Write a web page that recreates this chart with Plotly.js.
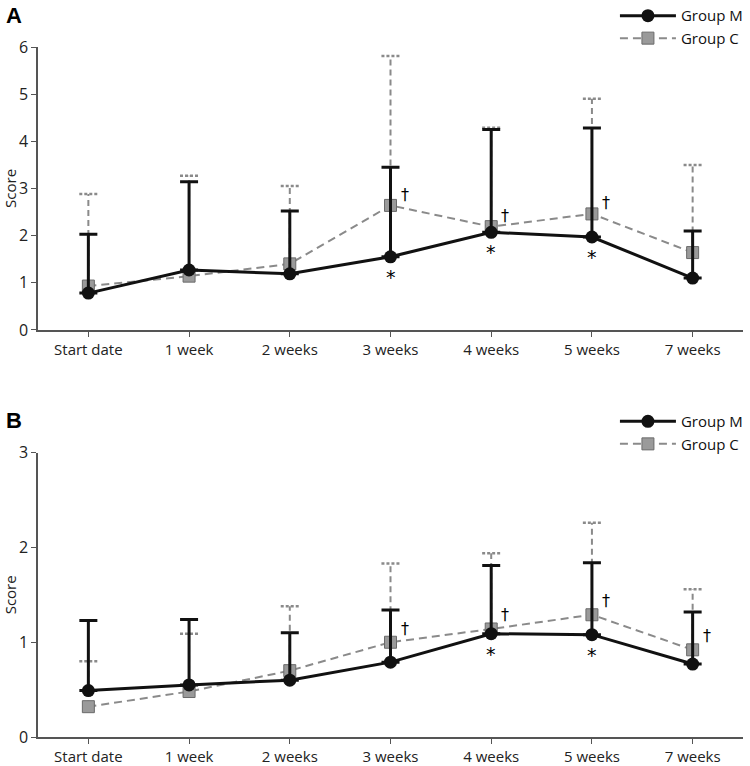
<!DOCTYPE html>
<html>
<head>
<meta charset="utf-8">
<script src="https://cdn.plot.ly/plotly-3.0.1.min.js"></script>
<style>
  body { margin: 0; background: #fff; }
  #chart { width: 750px; height: 766px; }
</style>
</head>
<body>
<div id="chart"></div>
<script>
var categories = ['Start date', '1 week', '2 weeks', '3 weeks', '4 weeks', '5 weeks', '7 weeks'];

// panel A : mean and mean+SD
var aGroupM = [0.78, 1.27, 1.19, 1.55, 2.07, 1.97, 1.10];
var aGroupMTop = [2.03, 3.14, 2.52, 3.45, 4.25, 4.28, 2.10];
var aGroupC = [0.93, 1.14, 1.40, 2.64, 2.19, 2.46, 1.64];
var aGroupCTop = [2.88, 3.27, 3.05, 5.81, 4.29, 4.90, 3.50];
var aStar = [3, 4, 5];
var aDagger = [3, 4, 5];

// panel B
var bGroupM = [0.49, 0.55, 0.60, 0.79, 1.09, 1.08, 0.77];
var bGroupMTop = [1.23, 1.24, 1.10, 1.34, 1.81, 1.84, 1.32];
var bGroupC = [0.32, 0.48, 0.70, 1.00, 1.14, 1.29, 0.92];
var bGroupCTop = [0.80, 1.09, 1.38, 1.83, 1.94, 2.26, 1.56];
var bStar = [4, 5];
var bDagger = [3, 4, 5, 6];

var xs = categories.map(function (c, i) { return i; });
var grey = '#8a8a8a';
var capHalf = 0.09;

function panel(m, mTop, c, cTop, xa, ya, leg) {
  var stemX = [], stemY = [], capX = [], capY = [];
  xs.forEach(function (x, i) {
    stemX.push(x, x, null); stemY.push(c[i], cTop[i], null);
    capX.push(x - capHalf, x + capHalf, null); capY.push(cTop[i], cTop[i], null);
  });
  return [
    {x: stemX, y: stemY, xaxis: xa, yaxis: ya, mode: 'lines', showlegend: false, hoverinfo: 'skip',
     line: {color: grey, width: 2, dash: '6px,4px'}},
    {x: capX, y: capY, xaxis: xa, yaxis: ya, mode: 'lines', showlegend: false, hoverinfo: 'skip',
     line: {color: grey, width: 2.5, dash: '3px,2px'}},
    {x: xs, y: c, xaxis: xa, yaxis: ya, name: 'Group C', legend: leg, legendrank: 2,
     mode: 'lines+markers',
     line: {color: grey, width: 2, dash: '8px,5px'},
     marker: {symbol: 'square', size: 12, color: '#9a9a9a', line: {color: '#6a6a6a', width: 1}}},
    {x: xs, y: m, xaxis: xa, yaxis: ya, name: 'Group M', legend: leg, legendrank: 1,
     mode: 'lines+markers',
     line: {color: '#111', width: 3},
     marker: {symbol: 'circle', size: 13, color: '#111'},
     error_y: {type: 'data', symmetric: false,
               array: mTop.map(function (t, i) { return t - m[i]; }),
               arrayminus: m.map(function () { return 0; }),
               color: '#111', thickness: 3, width: 9}}
  ];
}

var data = panel(aGroupM, aGroupMTop, aGroupC, aGroupCTop, 'x', 'y', 'legend')
  .concat(panel(bGroupM, bGroupMTop, bGroupC, bGroupCTop, 'x2', 'y2', 'legend2'));

function marks(list, vals, xa, ya, txt, dx, dy, size) {
  return list.map(function (i) {
    return {x: i, y: vals[i], xref: xa, yref: ya, text: txt, showarrow: false,
            xshift: dx, yshift: dy, font: {size: size, color: '#000', family: 'DejaVu Sans'}};
  });
}

var annotations = []
  .concat(marks(aStar, aGroupM, 'x', 'y', '*', 0, -20, 19))
  .concat(marks(aDagger, aGroupC, 'x', 'y', '†', 14, 11, 16))
  .concat(marks(bStar, bGroupM, 'x2', 'y2', '*', 0, -20, 19))
  .concat(marks(bDagger, bGroupC, 'x2', 'y2', '†', 14, 14, 16))
  .concat([
    {xref: 'paper', yref: 'paper', x: -0.048, y: 1.045, xanchor: 'left', yanchor: 'middle',
     text: '<b>A</b>', showarrow: false, font: {size: 22, color: '#000', family: 'Liberation Sans'}},
    {xref: 'paper', yref: 'paper', x: -0.048, y: 0.459, xanchor: 'left', yanchor: 'middle',
     text: '<b>B</b>', showarrow: false, font: {size: 22, color: '#000', family: 'Liberation Sans'}}
  ]);

var xaxisBase = {
  tickmode: 'array', tickvals: xs, ticktext: categories, range: [-0.5, 6.5],
  showline: true, linecolor: '#555', linewidth: 1.5, ticks: 'outside', ticklen: 5,
  tickcolor: '#555', showgrid: false, zeroline: false, automargin: false,
  tickfont: {size: 15, color: '#222'}
};
function yaxisBase(max, dom) {
  return {
    range: [0, max], dtick: 1, domain: dom,
    showline: true, linecolor: '#555', linewidth: 1.5, ticks: 'outside', ticklen: 5,
    tickcolor: '#555', showgrid: false, zeroline: false, automargin: false,
    tickfont: {size: 16, color: '#222'},
    title: {text: 'Score', standoff: 4, font: {size: 15, color: '#222'}}
  };
}

var layout = {
  width: 750, height: 766,
  margin: {l: 38, r: 7, t: 47, b: 29, autoexpand: false},
  paper_bgcolor: '#fff', plot_bgcolor: '#fff',
  font: {family: 'Open Sans, Noto Sans, sans-serif', color: '#222'},
  showlegend: true,
  xaxis: Object.assign({}, xaxisBase, {anchor: 'y'}),
  xaxis2: Object.assign({}, xaxisBase, {anchor: 'y2'}),
  yaxis: Object.assign(yaxisBase(6, [0.59, 1]), {anchor: 'x'}),
  yaxis2: Object.assign(yaxisBase(3, [0, 0.412]), {anchor: 'x2'}),
  legend: {x: 1.007, xanchor: 'right', y: 1.069, yanchor: 'top', bgcolor: 'rgba(0,0,0,0)',
           font: {size: 15, color: '#111'}, itemwidth: 56, tracegroupgap: 0},
  legend2: {x: 1.007, xanchor: 'right', y: 0.481, yanchor: 'top', bgcolor: 'rgba(0,0,0,0)',
            font: {size: 15, color: '#111'}, itemwidth: 56, tracegroupgap: 0},
  annotations: annotations
};

Plotly.newPlot('chart', data, layout, {displayModeBar: false, responsive: false});
</script>
</body>
</html>
